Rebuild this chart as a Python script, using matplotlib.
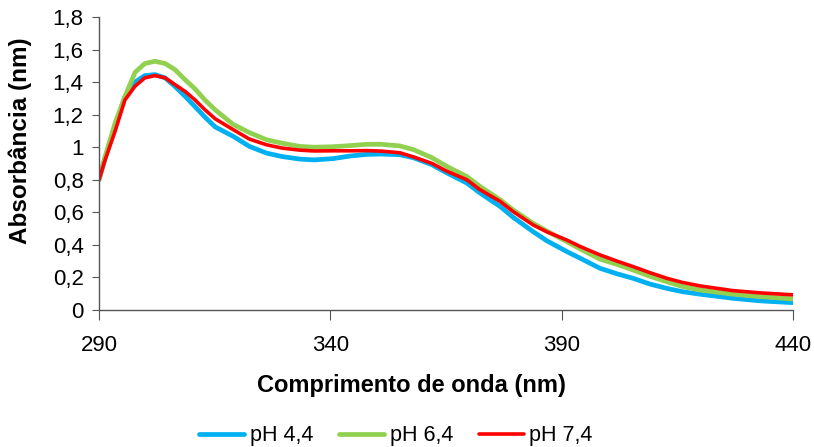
import numpy as np
import matplotlib
matplotlib.use("Agg")
from matplotlib import pyplot as plt
from matplotlib.ticker import FuncFormatter

plt.rcParams['font.family'] = ['Liberation Sans', 'DejaVu Sans']

# wavelength grid [nm] and absorbance readings for each pH
wl = [290, 291.3, 293.5, 295.6, 297.8, 299.9, 302.1, 304.3, 306.4, 308.6, 310.7, 312.9,
      315.1, 319, 322.5, 326.2, 329.5, 333.4, 336.5, 340.6, 344.3, 347.9, 351, 355, 358,
      362, 365, 369.5, 372.3, 376.7, 379.5, 383.8, 386.8, 391.1, 394, 398.3, 402, 405.4,
      409, 412.7, 416, 419.9, 427, 433, 440]
ph44 = [0.80, 0.93, 1.13, 1.31, 1.40, 1.44, 1.446, 1.426, 1.374, 1.313, 1.251, 1.185,
        1.125, 1.067, 1.005, 0.964, 0.943, 0.927, 0.922, 0.930, 0.946, 0.956, 0.958, 0.954, 0.935,
        0.892, 0.845, 0.78, 0.72, 0.636, 0.57, 0.482, 0.425, 0.359, 0.318, 0.256, 0.222, 0.195,
        0.16, 0.133, 0.113, 0.097, 0.072, 0.056, 0.045]
ph64 = [0.80, 0.94, 1.15, 1.31, 1.46, 1.514, 1.528, 1.514, 1.477, 1.415, 1.36, 1.29,
        1.23, 1.14, 1.09, 1.046, 1.025, 1.005, 1.0, 1.003, 1.01, 1.018, 1.018, 1.008, 0.985,
        0.935, 0.885, 0.82, 0.76, 0.677, 0.615, 0.533, 0.485, 0.42, 0.375, 0.312, 0.28, 0.246,
        0.208, 0.174, 0.145, 0.123, 0.097, 0.082, 0.068]
ph74 = [0.80, 0.92, 1.10, 1.29, 1.375, 1.426, 1.44, 1.426, 1.385, 1.343, 1.292, 1.23,
        1.175, 1.108, 1.05, 1.015, 0.995, 0.982, 0.977, 0.978, 0.978, 0.979, 0.976, 0.966, 0.94,
        0.90, 0.855, 0.80, 0.74, 0.667, 0.605, 0.523, 0.48, 0.43, 0.39, 0.338, 0.30, 0.267,
        0.23, 0.195, 0.17, 0.148, 0.119, 0.105, 0.093]
labels = ['pH 4,4', 'pH 6,4', 'pH 7,4']
x_ticks = [290, 340, 390, 440]
y_ticks = [0, 0.2, 0.4, 0.6, 0.8, 1.0, 1.2, 1.4, 1.6, 1.8]

fig = plt.figure(figsize=(8.14, 4.47), dpi=100)
ax = fig.add_axes([0.1216, 0.3065, 0.8526, 0.6555])

style = dict(solid_capstyle='round', solid_joinstyle='round')
ax.plot(wl, ph44, color='#00B0F0', lw=3.4, label=labels[0], **style)
ax.plot(wl, ph64, color='#92D050', lw=3.4, label=labels[1], **style)
ax.plot(wl, ph74, color='#FF0000', lw=2.6, label=labels[2], **style)

ax.set_xlim(290, 440)
ax.set_ylim(0, 1.8)
ax.set_xticks(x_ticks)
ax.set_yticks(y_ticks)
ax.yaxis.set_major_formatter(FuncFormatter(lambda v, p: ('%g' % round(v, 1)).replace('.', ',')))

for s in ['top', 'right']:
    ax.spines[s].set_visible(False)
for s in ['left', 'bottom']:
    ax.spines[s].set_color('#555555')
    ax.spines[s].set_linewidth(1.0)
ax.tick_params(axis='both', colors='#555555', labelcolor='black', labelsize=16, direction='out')
ax.tick_params(axis='y', length=5, pad=6)
ax.tick_params(axis='x', length=7, pad=11)

ax.set_xlabel('Comprimento de onda (nm)', fontsize=17, fontweight='bold')
ax.set_ylabel('Absorbância (nm)', fontsize=17.5, fontweight='bold')
ax.xaxis.set_label_coords(0.45, -0.218)
ax.yaxis.set_label_coords(-0.097, 0.577)

fig.legend(loc='lower center', bbox_to_anchor=(0.4865, -0.042), ncol=3, frameon=False,
           fontsize=15.5, handlelength=2.1, handletextpad=0.25, columnspacing=1.2)

fig.savefig('out.png', dpi=100)
